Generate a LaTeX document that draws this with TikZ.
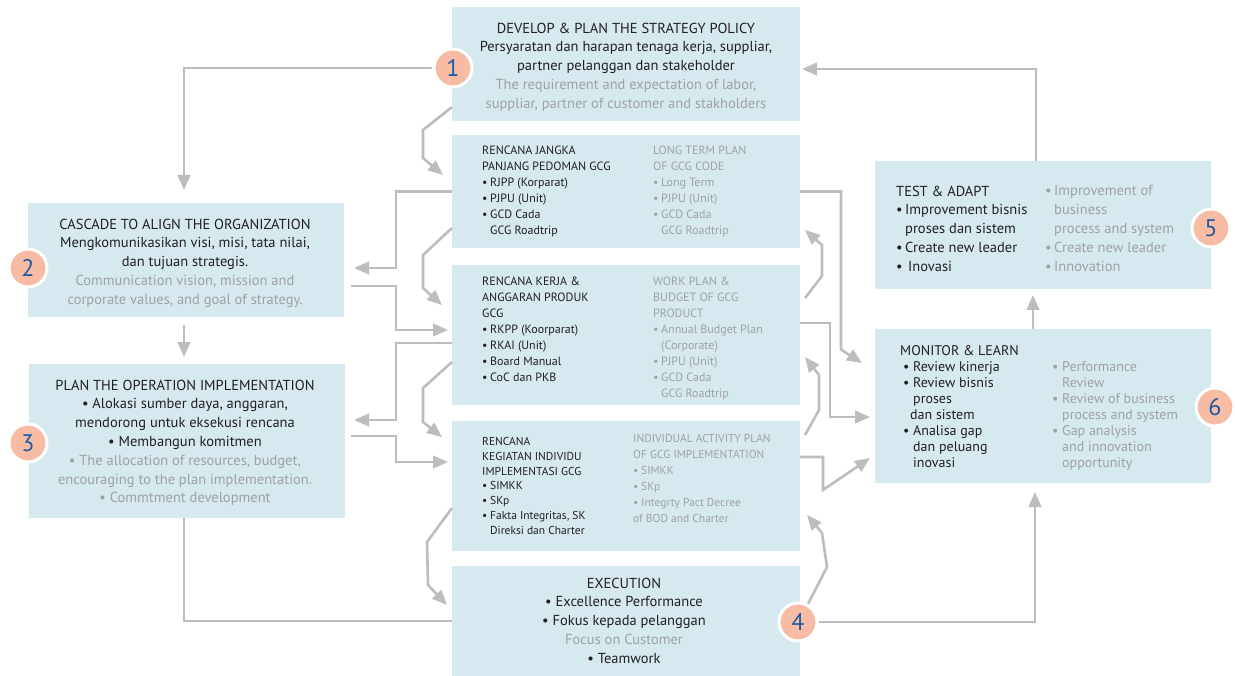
\documentclass[tikz,border=0pt]{standalone}
\usepackage{fontspec}
\setmainfont{PT Sans}
\usetikzlibrary{arrows.meta,calc}

\definecolor{boxfill}{HTML}{D6E9EF}
\definecolor{txtdark}{HTML}{231F20}
\definecolor{txtgrey}{HTML}{9FA1A4}
\definecolor{linegrey}{HTML}{BCBDBF}
\definecolor{numfill}{HTML}{F8BCA5}
\definecolor{numblue}{HTML}{1B5CA4}

% type sizes
\newcommand{\szBig}{\fontsize{14.5}{18.8}\selectfont}
\newcommand{\szMon}{\fontsize{14}{16}\selectfont}
\newcommand{\szSm}{\fontsize{12}{16}\selectfont}
\newcommand{\szXs}{\fontsize{11.5}{14.7}\selectfont}
\newcommand{\szXsb}{\fontsize{11.5}{16}\selectfont}
% bullet in a box of given width, and a hanging indent
\newcommand{\bul}[1]{\makebox[#1][l]{•}}
\newcommand{\indt}[1]{\hspace*{#1}}
\newcommand{\gr}[1]{\textcolor{txtgrey}{#1}}

\begin{document}
\begin{tikzpicture}[x=1pt,y=-1pt,
  box/.style={rectangle, fill=boxfill, draw=none, anchor=north west, inner sep=0pt, outer sep=0pt},
  conn/.style={draw=linegrey, line width=2.6pt},
  arr/.style={conn, -{Triangle[length=15pt,width=12.5pt]}},
  num/.style={circle, fill=numfill, draw=white, line width=3pt, minimum size=38pt,
              inner sep=0pt, text=numblue, font=\fontsize{24}{24}\selectfont},
  dk/.style={text=txtdark, inner sep=0pt},
  gy/.style={text=txtgrey, inner sep=0pt},
]
\useasboundingbox (0,0) rectangle (1235,676);

% boxes
\node[box, minimum width=348pt, minimum height=114pt] (b1) at (452,7) {};
\node[box, minimum width=316pt, minimum height=114pt] (b2) at (28,203) {};
\node[box, minimum width=316pt, minimum height=154pt] (b3) at (29,364) {};
\node[box, minimum width=348pt, minimum height=113pt] (bA) at (452,135) {};
\node[box, minimum width=348pt, minimum height=140pt] (bB) at (452,265) {};
\node[box, minimum width=348pt, minimum height=130pt] (bC) at (452,421) {};
\node[box, minimum width=348pt, minimum height=110pt] (bE) at (452,566) {};
\node[box, minimum width=336pt, minimum height=128pt] (b5) at (875,161) {};
\node[box, minimum width=336pt, minimum height=154pt] (b6) at (875,329) {};

% centres of the numbered markers
\coordinate (p1) at (453,68);
\coordinate (p4) at (798,622);

% left loop
\draw[arr] ($(p1)+(-21,0)$) -| ($(b2.north west)+(156,-13)$);
\draw[arr] ($(b2.south)+(-2,8)$) -- ($(b3.north)+(-3,-7)$);
\draw[conn] ($(b3.south)+(-3,0)$) |- (bE.west);

% middle column, downward zigzags
\draw[arr] ($(b1.south west)+(0,-14)$) -- ++(-29,23) -- ++(0,28) -- ($(bA.north west)+(-9,40)$);
\draw[arr] ($(bA.south west)+(0,-20)$) -- ++(-29,27) -- ++(0,33) -- ($(bB.north west)+(-10,40)$);
\draw[arr] ($(bB.south west)+(0,-43)$) -- ++(-29,26) -- ++(0,34) -- ($(bC.north west)+(-10,16)$);
\draw[arr] ($(bC.south west)+(0,-43)$) -- ++(-25,34) -- ++(1,43) -- ($(bE.north west)+(-5,39)$);

% exchanges between left and middle columns
\draw[arr] (bA.west) -- ++(-56,0) |- ($(b2.east)+(10,8)$);
\draw[arr] ($(b2.east)+(7,26)$) -| ($(bB.west)+(-56,-5)$) -- ($(bB.west)+(-4,-5)$);
\draw[arr] ($(bB.north west)+(0,78)$) -- ++(-56,0) |- ($(b3.east)+(9,-21)$);
\draw[arr] ($(b3.east)+(6,-5)$) -| ($(bC.west)+(-56,-24)$) -- ($(bC.west)+(-4,-24)$);

% middle to right column
\draw[arr] (bA.east) -- ++(41,0) -- ++(0,158) -- ($(b6.north west)+(-13,34)$);
\draw[arr] ($(bB.north east)+(5,33)$) -- ++(17,-22) -- ++(0,-31) -- ($(bA.south east)+(5,-18)$);
\draw[arr] ($(bB.north east)+(0,58)$) -- ++(30,0) -- ++(0,94) -- ($(b6.north west)+(-5,88)$);
\draw[arr] ($(bC.north east)+(5,14)$) -- ++(14,-25) -- ++(0,-35) -- ($(bB.south east)+(5,-48)$);
\draw[arr] ($(bC.north east)+(0,36)$) -- ++(23,0) -- ++(0,33) -- ($(b6.north west)+(-5,129)$);
\draw[arr] ($(p4)+(10,-18)$) -- ++(19,-37) -- ++(-5,-34) -- ($(bC.south east)+(7,-36)$);
\draw[arr] ($(p4)+(21,0)$) -| ($(b6.south west)+(160,9)$);

% right loop
\draw[arr] ($(b6.north west)+(158,0)$) -- ($(b5.south west)+(158,6)$);
\draw[arr] ($(b5.north west)+(161,0)$) |- ($(b1.north east)+(2,62)$);

% markers
\node[num] (c1) at (p1) {1};
\node[num] (c2) at (28,268) {2};
\node[num] (c3) at (28,443) {3};
\node[num] (c4) at (p4) {4};
\node[num] (c5) at (1211,228) {5};
\node[num] (c6) at (1215,407) {6};

% texts
\node[dk, anchor=north, align=center, font=\szBig] (t1) at (626,22.5)
  {DEVELOP \& PLAN THE STRATEGY POLICY\\
   Persyaratan dan harapan tenaga kerja, suppliar,\\
   partner pelanggan dan stakeholder\\
   \gr{The requirement and expectation of labor,}\\
   \gr{suppliar, partner of customer and stakholders}};

\node[dk, anchor=north, align=center, font=\szBig] (t2) at (185,218.5)
  {CASCADE TO ALIGN THE ORGANIZATION\\
   Mengkomunikasikan visi, misi, tata nilai,\\
   dan tujuan strategis.\\
   \gr{Communication vision, mission and}\\
   \gr{corporate values, and goal of strategy.}};

\node[dk, anchor=north, align=center, font=\szBig] (t3) at (185,379.5)
  {PLAN THE OPERATION IMPLEMENTATION\\
   • Alokasi sumber daya, anggaran,\\
   mendorong untuk eksekusi rencana\\
   • Membangun komitmen\\
   \gr{• The allocation of resources, budget,}\\
   \gr{encouraging to the plan implementation.}\\
   \gr{• Commtment development}};

\node[dk, anchor=north, align=center, font=\szBig] (tE) at (624,577.5)
  {EXECUTION\\
   • Excellence Performance\\
   • Fokus kepada pelanggan\\
   \gr{Focus on Customer}\\
   • Teamwork};

\node[dk, anchor=north west, align=left, font=\szSm] (tAl) at (482,145.5)
  {RENCANA JANGKA\\
   PANJANG PEDOMAN GCG\\
   \bul{8pt}RJPP (Korparat)\\
   \bul{8pt}PJPU (Unit)\\
   \bul{8pt}GCD Cada\\
   \indt{8pt}GCG Roadtrip};
\node[gy, anchor=north west, align=left, font=\szSm] (tAr) at (653,145.5)
  {LONG TERM PLAN\\
   OF GCG CODE\\
   \bul{8pt}Long Term\\
   \bul{8pt}PJPU (Unit)\\
   \bul{8pt}GCD Cada\\
   \indt{8pt}GCG Roadtrip};

\node[dk, anchor=north west, align=left, font=\szSm] (tBl) at (482,276.5)
  {RENCANA KERJA \&\\
   ANGGARAN PRODUK\\
   GCG\\
   \bul{8pt}RKPP (Koorparat)\\
   \bul{8pt}RKAI (Unit)\\
   \bul{8pt}Board Manual\\
   \bul{8pt}CoC dan PKB};
\node[gy, anchor=north west, align=left, font=\szSm] (tBr) at (653,276.5)
  {WORK PLAN \&\\
   BUDGET OF GCG\\
   PRODUCT\\
   \bul{8pt}Annual Budget Plan\\
   \indt{8pt}(Corporate)\\
   \bul{8pt}PJPU (Unit)\\
   \bul{8pt}GCD Cada\\
   \indt{8pt}GCG Roadtrip};

\node[dk, anchor=north west, align=left, font=\szXs] (tCl) at (482,437.5)
  {RENCANA\\
   KEGIATAN INDIVIDU\\
   IMPLEMENTASI GCG\\
   \bul{8pt}SIMKK\\
   \bul{8pt}SKp\\
   \bul{8pt}Fakta Integritas, SK\\
   \indt{8pt}Direksi dan Charter};
\node[gy, anchor=north west, align=left, font=\szXsb] (tCr) at (633,434.5)
  {INDIVIDUAL ACTIVITY PLAN\\
   OF GCG IMPLEMENTATION\\
   \bul{8pt}SIMKK\\
   \bul{8pt}SKp\\
   \bul{8pt}Integrty Pact Decree\\
   of BOD and Charter};

\node[dk, anchor=north west, align=left, font=\szBig] (t5l) at (896,185.5)
  {TEST \& ADAPT\\
   \bul{9pt}Improvement bisnis\\
   \indt{9pt}proses dan sistem\\
   \bul{9pt}Create new leader\\
   \bul{12pt}Inovasi};
\node[gy, anchor=north west, align=left, font=\szBig] (t5r) at (1045,185.5)
  {\bul{9pt}Improvement of\\
   \indt{9pt}business\\
   \indt{9pt}process and system\\
   \bul{9pt}Create new leader\\
   \bul{9pt}Innovation};

\node[dk, anchor=north west, align=left, font=\szMon] (t6l) at (900,345.5)
  {MONITOR \& LEARN\\
   \indt{3pt}\bul{10pt}Review kinerja\\
   \indt{3pt}\bul{10pt}Review bisnis\\
   \indt{13pt}proses\\
   \indt{10pt}dan sistem\\
   \indt{3pt}\bul{10pt}Analisa gap\\
   \indt{13pt}dan peluang\\
   \indt{13pt}inovasi};
\node[gy, anchor=north west, align=left, font=\szMon] (t6r) at (1052,361.5)
  {\bul{10pt}Performance\\
   \indt{10pt}Review\\
   \bul{10pt}Review of business\\
   \indt{10pt}process and system\\
   \bul{10pt}Gap analysis\\
   \indt{10pt}and innovation\\
   \indt{10pt}opportunity};
\end{tikzpicture}
\end{document}
